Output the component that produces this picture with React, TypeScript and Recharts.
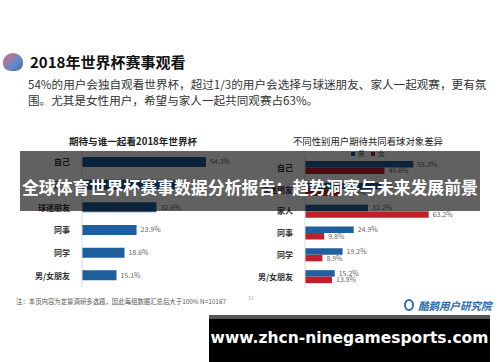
import React from "react";
import { BarChart, Bar, XAxis, YAxis, LabelList } from "recharts";

// 期待与谁一起看2018年世界杯
const leftCategories = ["自己", "家人", "球迷朋友", "同事", "同学", "男/女朋友"];
const leftValues = [54.3, 41.5, 32.6, 23.9, 18.6, 15.1];

// 不同性别用户期待共同看球对象差异
const rightCategories = ["自己", "球迷朋友", "家人", "同事", "同学", "男/女朋友"];
const maleValues = [55.3, 38.9, 32.2, 24.9, 19.2, 15.2];
const femaleValues = [40.6, 18.9, 63.2, 9.8, 8.9, 13.8];

const BLUE = "#1f5f9e";
const RED = "#c0202a";
const CJK = '"Noto Sans CJK SC", "Noto Sans", sans-serif';

const leftData = leftCategories.map((name, i) => ({ name, value: leftValues[i] }));
const rightData = rightCategories.map((name, i) => ({
  name,
  male: maleValues[i],
  female: femaleValues[i],
}));

const pct = (v: any) => `${Number(v).toFixed(1)}%`;

export default function App() {
  const tickStyle = { fontSize: 8, fill: "#333", fontWeight: 700, fontFamily: CJK };
  const labelStyle = { fontSize: 7, fill: "#666", fontFamily: CJK };

  return (
    <div
      style={{
        position: "absolute",
        left: 0,
        top: 0,
        width: 500,
        height: 362,
        background: "#fff",
        overflow: "hidden",
        fontFamily: CJK,
      }}
    >
      {/* icon */}
      <div
        style={{
          position: "absolute",
          left: 3,
          top: 53,
          width: 20,
          height: 18,
          borderRadius: "50% 50% 40% 40%",
          background: "linear-gradient(135deg, #e04050 0%, #3a6fc0 60%, #1d3f7a 100%)",
          opacity: 0.8,
        }}
      />
      <div
        style={{
          position: "absolute",
          left: 30,
          top: 52,
          fontSize: 15,
          fontWeight: 700,
          color: "#111",
          lineHeight: "20px",
        }}
      >
        2018年世界杯赛事观看
      </div>
      <div
        style={{
          position: "absolute",
          left: 28,
          top: 76,
          fontSize: 11.6,
          color: "#333",
          lineHeight: "16px",
          whiteSpace: "nowrap",
        }}
      >
        54%的用户会独自观看世界杯，超过1/3的用户会选择与球迷朋友、家人一起观赛，更有氛
        <br />
        围。尤其是女性用户，希望与家人一起共同观赛占63%。
      </div>

      {/* left chart */}
      <div
        style={{
          position: "absolute",
          left: 0,
          width: 266,
          top: 134,
          textAlign: "center",
          fontSize: 9.6,
          fontWeight: 700,
          color: "#222",
        }}
      >
        期待与谁一起看2018年世界杯
      </div>
      <div style={{ position: "absolute", left: 0, top: 151 }}>
        <BarChart
          width={239}
          height={136}
          data={leftData}
          layout="vertical"
          margin={{ top: 0, right: 20, bottom: 0, left: 0 }}
        >
          <XAxis type="number" domain={[0, 60]} hide />
          <YAxis
            type="category"
            dataKey="name"
            width={82}
            tickLine={false}
            axisLine={{ stroke: "#d9d9d9" }}
            tick={tickStyle}
            tickMargin={6}
            interval={0}
          />
          <Bar dataKey="value" fill={BLUE} barSize={10} isAnimationActive={false}>
            <LabelList dataKey="value" position="right" formatter={pct} offset={4} style={labelStyle} />
          </Bar>
        </BarChart>
      </div>

      {/* right chart */}
      <div
        style={{
          position: "absolute",
          left: 268,
          width: 200,
          top: 134,
          textAlign: "center",
          fontSize: 9.4,
          color: "#222",
        }}
      >
        不同性别用户期待共同看球对象差异
      </div>
      <div
        style={{
          position: "absolute",
          left: 268,
          width: 200,
          top: 148,
          textAlign: "center",
          fontSize: 7,
          color: "#555",
          lineHeight: "10px",
        }}
      >
        <span style={{ display: "inline-block", width: 4, height: 4, background: BLUE, marginRight: 3 }} />
        男
        <span style={{ display: "inline-block", width: 4, height: 4, background: RED, margin: "0 3px 0 6px" }} />
        女
      </div>
      <div style={{ position: "absolute", left: 250, top: 157 }}>
        <BarChart
          width={217}
          height={131}
          data={rightData}
          layout="vertical"
          barGap={0}
          margin={{ top: 0, right: 25, bottom: 0, left: 0 }}
        >
          <XAxis type="number" domain={[0, 70]} hide />
          <YAxis
            type="category"
            dataKey="name"
            width={55}
            tickLine={false}
            axisLine={{ stroke: "#d9d9d9" }}
            tick={tickStyle}
            tickMargin={6}
            interval={0}
          />
          <Bar dataKey="male" name="男" fill={BLUE} barSize={6.5} isAnimationActive={false}>
            <LabelList dataKey="male" position="right" formatter={pct} offset={4} style={labelStyle} />
          </Bar>
          <Bar dataKey="female" name="女" fill={RED} barSize={6.5} isAnimationActive={false}>
            <LabelList dataKey="female" position="right" formatter={pct} offset={4} style={labelStyle} />
          </Bar>
        </BarChart>
      </div>

      {/* footnote */}
      <div style={{ position: "absolute", left: 16, top: 297, fontSize: 6.4, color: "#555" }}>
        注：本页内容为定量调研多选题，因此每组数据汇总后大于100% N=10167
      </div>
      <div style={{ position: "absolute", left: 248, top: 294, fontSize: 5, color: "#999" }}>31</div>
      <div
        style={{
          position: "absolute",
          left: 404,
          top: 299,
          width: 10,
          height: 12,
          borderRadius: "50%",
          border: "2px solid #2b6cb0",
          boxSizing: "border-box",
        }}
      />
      <div
        style={{
          position: "absolute",
          left: 418,
          top: 298,
          fontSize: 10.5,
          fontWeight: 700,
          fontStyle: "italic",
          color: "#2b6cb0",
        }}
      >
        酷鹅用户研究院
      </div>

      {/* overlay banner */}
      <div
        style={{
          position: "absolute",
          left: 20,
          top: 151,
          width: 460,
          height: 60,
          background: "rgba(0,0,0,0.62)",
        }}
      />
      <div
        style={{
          position: "absolute",
          left: 0,
          width: 500,
          top: 174,
          textAlign: "center",
          fontSize: 16.9,
          fontWeight: 700,
          color: "#fff",
          lineHeight: "26px",
          whiteSpace: "nowrap",
        }}
      >
        全球体育世界杯赛事数据分析报告：趋势洞察与未来发展前景
      </div>

      {/* watermark */}
      <div
        style={{
          position: "absolute",
          left: 209,
          top: 315,
          width: 281,
          height: 47,
          background: "#000",
          borderTop: "4px solid #555",
          boxSizing: "border-box",
        }}
      />
      <div
        style={{
          position: "absolute",
          left: 209,
          width: 281,
          top: 326,
          textAlign: "center",
          fontFamily: '"DejaVu Sans", sans-serif',
          fontWeight: 700,
          fontSize: 15.5,
          color: "#fff",
          lineHeight: "24px",
          whiteSpace: "nowrap",
        }}
      >
        www.zhcn-ninegamesports.com
      </div>
    </div>
  );
}
